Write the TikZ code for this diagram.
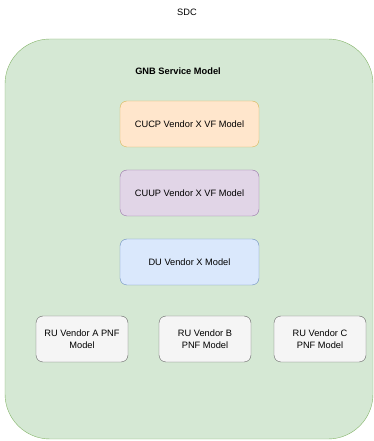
\documentclass[tikz,border=0pt]{standalone}
\usepackage{fontspec}
\setmainfont{Liberation Sans}
\usetikzlibrary{shapes}

\begin{document}
\begin{tikzpicture}[line join=bevel,font=\fontsize{9.3}{11.5}\selectfont]
%%
\useasboundingbox (0bp,0bp) rectangle (374bp,441bp);
\begin{scope}
  \definecolor{strokecol}{rgb}{0.0,0.0,0.0};
  \pgfsetstrokecolor{strokecol}
  \draw (187.0bp,429.0bp) node (sdc) {SDC};
\end{scope}
  \definecolor{strokecolor}{HTML}{82B366};
  \definecolor{fillcolor}{HTML}{D5E8D4};
  \node (gnb) at (189.0bp,202.0bp) [draw=strokecolor,fill=fillcolor,rectangle,rounded corners=45bp,minimum width=368bp,minimum height=400bp] {};
  \node (gnblabel) at (178.0bp,370.0bp) {\bfseries GNB Service Model};
  \definecolor{strokecolor}{HTML}{D6B656};
  \definecolor{fillcolor}{HTML}{FFE6CC};
  \node (cucp) at (189.5bp,317.0bp) [draw=strokecolor,fill=fillcolor,rectangle,rounded corners=7bp,minimum width=139bp,minimum height=46bp] {CUCP Vendor X VF Model};
  \definecolor{strokecolor}{HTML}{9673A6};
  \definecolor{fillcolor}{HTML}{E1D5E7};
  \node (cuup) at (189.5bp,248.0bp) [draw=strokecolor,fill=fillcolor,rectangle,rounded corners=7bp,minimum width=139bp,minimum height=46bp] {CUUP Vendor X VF Model};
  \definecolor{strokecolor}{HTML}{6C8EBF};
  \definecolor{fillcolor}{HTML}{DAE8FC};
  \node (du) at (189.5bp,179.0bp) [draw=strokecolor,fill=fillcolor,rectangle,rounded corners=7bp,minimum width=139bp,minimum height=46bp] {DU Vendor X Model};
  \definecolor{strokecolor}{HTML}{666666};
  \definecolor{fillcolor}{HTML}{F5F5F5};
  \node (rua) at (82.0bp,102.0bp) [draw=strokecolor,fill=fillcolor,rectangle,rounded corners=7bp,minimum width=92bp,minimum height=46bp,align=center] {RU Vendor A PNF\\Model};
  \node (rub) at (205.0bp,102.0bp) [draw=strokecolor,fill=fillcolor,rectangle,rounded corners=7bp,minimum width=92bp,minimum height=46bp,align=center] {RU Vendor B\\PNF Model};
  \node (ruc) at (320.0bp,102.0bp) [draw=strokecolor,fill=fillcolor,rectangle,rounded corners=7bp,minimum width=92bp,minimum height=46bp,align=center] {RU Vendor C\\PNF Model};
%
\end{tikzpicture}
\end{document}
